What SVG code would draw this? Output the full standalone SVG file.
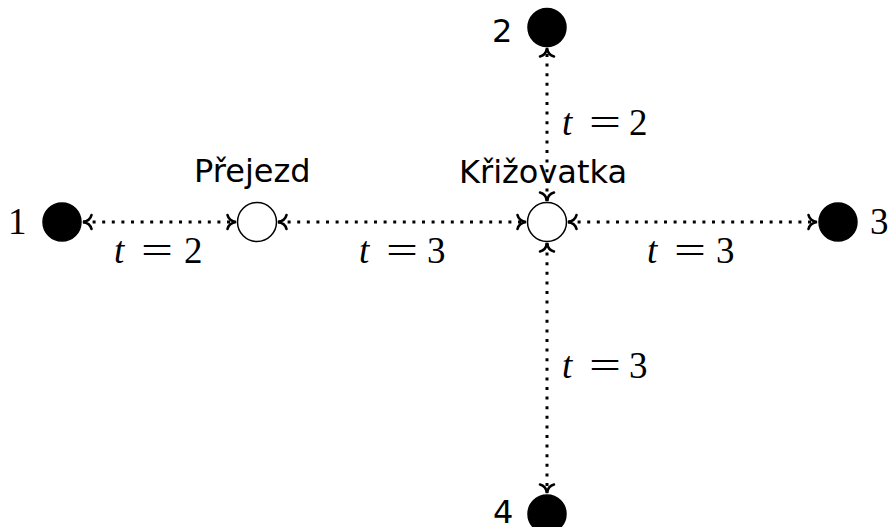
<svg xmlns="http://www.w3.org/2000/svg" width="888" height="527" viewBox="0 0 888 527">
<style>
.bg{fill:#fff}
.full{fill:#000;stroke:#000;stroke-width:1.5}
.hollow{fill:#fff;stroke:#000;stroke-width:1.5}
.edge{stroke:#000;stroke-width:3;stroke-dasharray:3 6.6;fill:none;marker-start:url(#to);marker-end:url(#to)}
.sans{font-family:"DejaVu Sans",sans-serif;font-size:32px;fill:#000}
.math{font-family:"Liberation Serif",serif;font-size:37px;fill:#000}
.it{font-style:italic}
</style>
<defs>
<marker id="to" markerUnits="userSpaceOnUse" viewBox="-12 -10 14 20" refX="0" refY="0" markerWidth="14" markerHeight="20" orient="auto-start-reverse" overflow="visible">
<path d="M-8.5,-7 C-7.5,-2.8 -3.5,-0.5 0,0 C-3.5,0.5 -7.5,2.8 -8.5,7" fill="none" stroke="#000" stroke-width="2.6" stroke-linecap="round"/>
</marker>
</defs>
<rect class="bg" width="888" height="527"/>
<g id="connectors">
<line class="edge" x1="83" y1="222" x2="236" y2="222"/>
<line class="edge" x1="278" y1="222" x2="526" y2="222"/>
<line class="edge" x1="568" y1="222" x2="817" y2="222"/>
<line class="edge" x1="547" y1="201" x2="547" y2="48"/>
<line class="edge" x1="547" y1="243" x2="547" y2="493"/>
</g>
<g id="n1"><circle class="full" cx="62" cy="222" r="19"/><text class="math" x="8" y="234">1</text></g>
<g id="prejezd"><circle class="hollow" cx="257" cy="222" r="19.5"/><text class="sans" x="194" y="182">Přejezd</text></g>
<g id="krizovatka"><circle class="hollow" cx="547" cy="222" r="19.5"/><text class="sans" x="459" y="183">Křižovatka</text></g>
<g id="n3"><circle class="full" cx="838" cy="222" r="19"/><text class="math" x="870" y="234">3</text></g>
<g id="n2"><circle class="full" cx="547" cy="27.5" r="19"/><text class="sans" x="492" y="42">2</text></g>
<g id="n4"><circle class="full" cx="547" cy="514" r="19"/><text class="sans" x="493" y="523">4</text></g>
<g id="labels">
<text class="math it" x="114" y="263">t</text><text class="math" x="141" y="263" textLength="32" lengthAdjust="spacingAndGlyphs">=</text><text class="math" x="184" y="263">2</text>
<text class="math it" x="359" y="263">t</text><text class="math" x="386" y="263" textLength="32" lengthAdjust="spacingAndGlyphs">=</text><text class="math" x="427" y="263">3</text>
<text class="math it" x="647" y="263">t</text><text class="math" x="674" y="263" textLength="32" lengthAdjust="spacingAndGlyphs">=</text><text class="math" x="716" y="263">3</text>
<text class="math it" x="562" y="135">t</text><text class="math" x="589" y="135" textLength="32" lengthAdjust="spacingAndGlyphs">=</text><text class="math" x="629" y="135">2</text>
<text class="math it" x="562" y="378">t</text><text class="math" x="589" y="378" textLength="32" lengthAdjust="spacingAndGlyphs">=</text><text class="math" x="629" y="378">3</text>
</g>
</svg>
